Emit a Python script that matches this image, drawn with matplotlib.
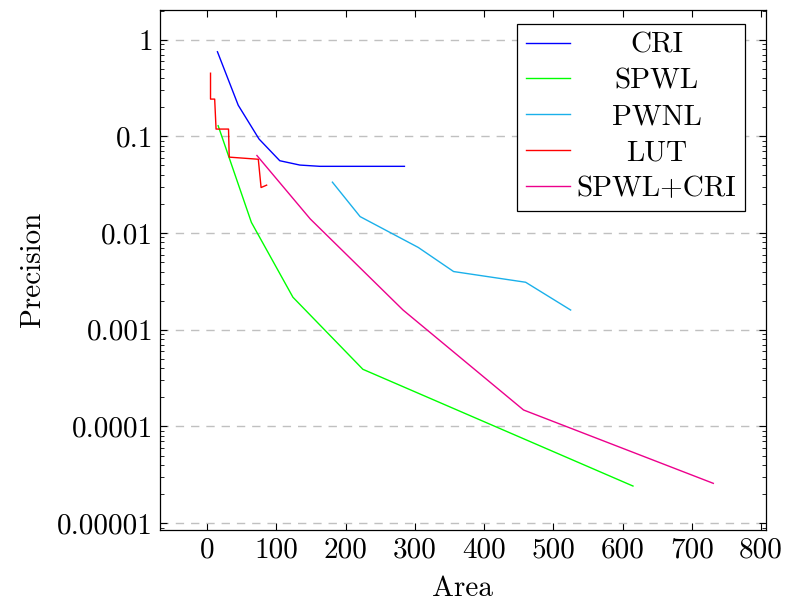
import matplotlib
matplotlib.use("Agg")
import matplotlib.pyplot as plt
from matplotlib.ticker import LogLocator, NullFormatter

# datos
cri_x = [15, 45, 75, 105, 134, 163, 285]
cri_y = [0.75, 0.21, 0.094, 0.056, 0.0505, 0.049, 0.049]

spwl_x = [16, 64, 124, 225, 615]
spwl_y = [0.129, 0.0129, 0.00217, 0.00039, 0.0000242]

pwnl_x = [181, 221, 305, 356, 460, 525]
pwnl_y = [0.0336, 0.0148, 0.0071, 0.0040, 0.0031, 0.0016]

lut_x = [5, 5, 11, 13, 31, 32, 74, 78, 80, 86]
lut_y = [0.45, 0.243, 0.243, 0.119, 0.119, 0.061, 0.058, 0.0296, 0.030, 0.0313]

mix_x = [72, 149, 283, 457, 731]
mix_y = [0.0634, 0.0140, 0.0016, 0.000148, 0.0000258]

y_ticks = [1, 0.1, 0.01, 0.001, 0.0001, 0.00001]
y_labels = ["1", "0.1", "0.01", "0.001", "0.0001", "0.00001"]
x_ticks = [0, 100, 200, 300, 400, 500, 600, 700, 800]

plt.rcParams["font.family"] = ["cmr10", "DejaVu Serif"]
plt.rcParams["mathtext.fontset"] = "cm"
plt.rcParams["axes.formatter.use_mathtext"] = True
fs = 21

fig = plt.figure(figsize=(7.88, 6.07), dpi=100)
ax = fig.add_axes([0.203, 0.127, 0.769, 0.857])

ax.plot(cri_x, cri_y, color="#0000FF", lw=1.0, label="CRI")
ax.plot(spwl_x, spwl_y, color="#00FF00", lw=1.0, label="SPWL")
ax.plot(pwnl_x, pwnl_y, color="#1AB0EA", lw=1.0, label="PWNL")
ax.plot(lut_x, lut_y, color="#FF0000", lw=1.0, label="LUT")
ax.plot(mix_x, mix_y, color="#EC008C", lw=1.0, label="SPWL+CRI")

ax.set_yscale("log")
ax.set_xlim(-68, 807)
ax.set_ylim(10 ** -5.07, 10 ** 0.31)
ax.set_yticks(y_ticks)
ax.set_yticklabels(y_labels)
ax.yaxis.set_minor_locator(LogLocator(base=10, subs=range(2, 10)))
ax.yaxis.set_minor_formatter(NullFormatter())
ax.set_xticks(x_ticks)
ax.set_xticklabels([str(v) for v in x_ticks])

ax.tick_params(which="both", direction="in", top=True, right=True, labelsize=fs)
ax.tick_params(which="major", length=5, width=0.8, pad=5)
ax.tick_params(which="minor", length=3, width=0.6)
ax.grid(axis="y", which="major", color="#C0C0C0", linestyle=(0, (6, 5)), lw=1.0)
ax.set_axisbelow(True)
for s in ax.spines.values():
    s.set_linewidth(0.9)

ax.set_xlabel("Area", fontsize=fs, labelpad=9)
ax.set_ylabel("Precision", fontsize=fs, labelpad=8)

leg = ax.legend(loc="upper right", fontsize=fs, frameon=True, fancybox=False,
                edgecolor="black", framealpha=1, handlelength=1.5,
                handletextpad=0.25, labelspacing=0.32, borderpad=0.3,
                borderaxespad=0, bbox_to_anchor=(0.966, 0.973))
leg.get_frame().set_linewidth(0.9)

# centrar los textos de la leyenda como en pgfplots
fig.canvas.draw()
r = fig.canvas.get_renderer()
anchos = [t.get_window_extent(r).width for t in leg.get_texts()]
wmax = max(anchos)
for t, w in zip(leg.get_texts(), anchos):
    t.set_position(((wmax - w) / 2, 0))

fig.savefig("out.png", dpi=100)
